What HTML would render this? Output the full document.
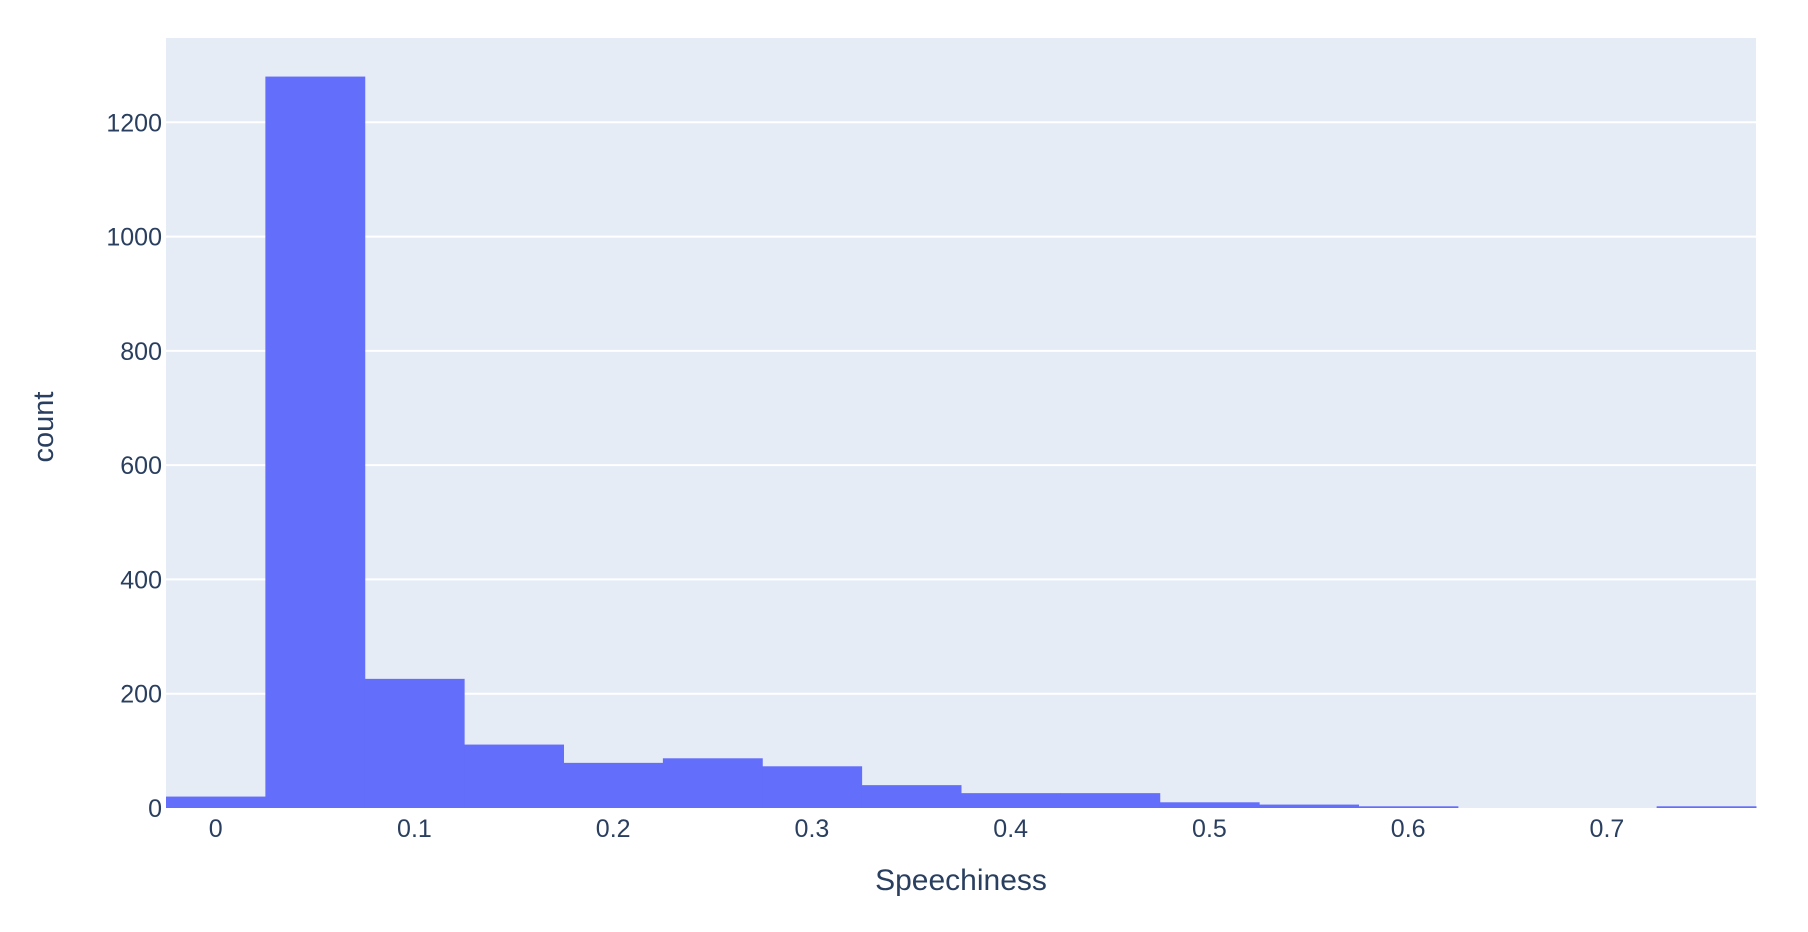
<!DOCTYPE html>
<html><head><meta charset="utf-8"><style>
html,body{margin:0;padding:0;background:#fff;}
svg text{font-family:"Liberation Sans",sans-serif;fill:#2a3f5f;}
</style></head><body>
<svg id="chart" width="1808" height="927" xmlns="http://www.w3.org/2000/svg">
<rect x="166" y="38" width="1590" height="770" fill="#e5ecf6"/>
<g id="grid"></g><g id="bars"></g><g id="xticks"></g><g id="yticks"></g>
<text x="961" y="890" font-size="30" text-anchor="middle">Speechiness</text>
<text x="0" y="0" font-size="29" text-anchor="middle" transform="translate(53,427) rotate(-90)">count</text>
</svg>
<script>
const binStarts = [-0.025,0.025,0.075,0.125,0.175,0.225,0.275,0.325,0.375,0.425,0.475,0.525,0.575,0.625,0.675,0.725];
const counts = [20,1280,226,111,79,87,73,40,26,26,10,6,3,0,0,3];
const binWidth = 0.05;
const xTicks = [0,0.1,0.2,0.3,0.4,0.5,0.6,0.7];
const xTickLabels = ["0","0.1","0.2","0.3","0.4","0.5","0.6","0.7"];
const yTicks = [0,200,400,600,800,1000,1200];
const yTickLabels = ["0","200","400","600","800","1000","1200"];
const NS="http://www.w3.org/2000/svg";
const L=166,R=1756,T=38,B=808;
const xMin=-0.025,xMax=0.775,yMax=1347.5;
const X=v=>L+(v-xMin)/(xMax-xMin)*(R-L);
const Y=v=>B-v/yMax*(B-T);
const mk=(t,a)=>{const e=document.createElementNS(NS,t);for(const k in a)e.setAttribute(k,a[k]);return e;};
const grid=document.getElementById('grid');
yTicks.forEach((v,i)=>{
  if(v===0)return;
  const l=mk('line',{x1:L,x2:R,y1:Y(v),y2:Y(v),stroke:'#fff','stroke-width':2});
  
  
  grid.appendChild(l);
});
const bars=document.getElementById('bars');
binStarts.forEach((s,i)=>{
  const x0=X(s),x1=X(s+binWidth),h=B-Y(counts[i]);
  const r=mk('rect',{x:x0,y:Y(counts[i]),width:x1-x0+0.5,height:h,fill:'#636efa'});
  
  
  bars.appendChild(r);
});
const xt=document.getElementById('xticks');
xTicks.forEach((v,i)=>{
  const t=mk('text',{x:X(v),y:B+29,'font-size':25,'text-anchor':'middle'});
  t.textContent=xTickLabels[i];
  
  
  xt.appendChild(t);
});
const yt=document.getElementById('yticks');
yTicks.forEach((v,i)=>{
  const t=mk('text',{x:162,y:Y(v)+9,'font-size':25,'text-anchor':'end'});
  t.textContent=yTickLabels[i];
  
  
  yt.appendChild(t);
});
</script>
</body></html>
